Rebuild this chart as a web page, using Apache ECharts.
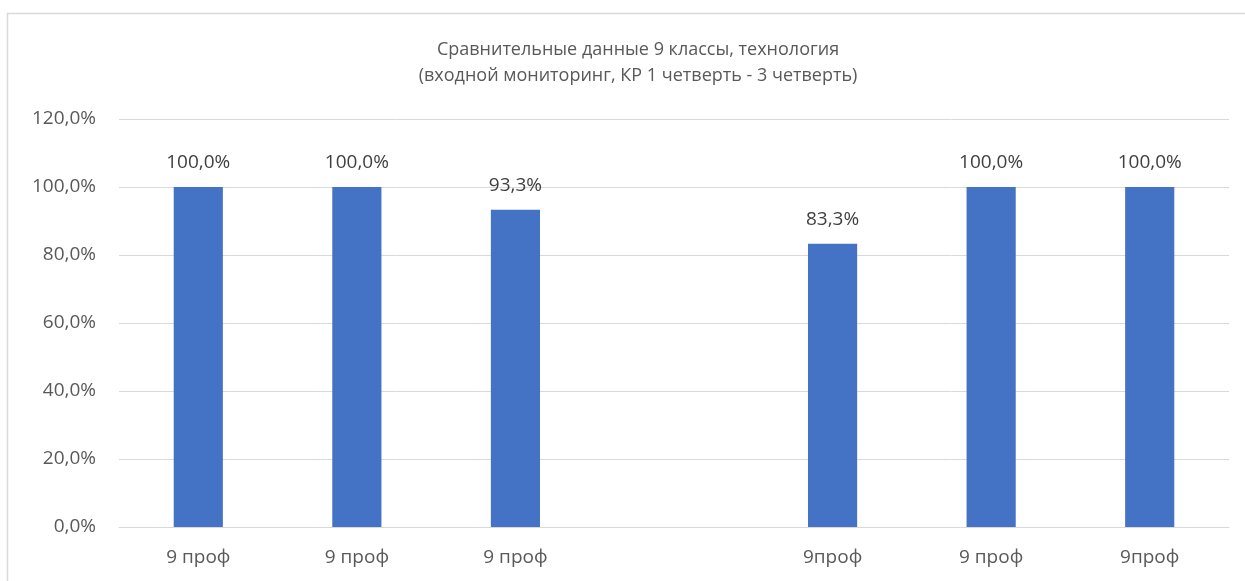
<!DOCTYPE html>
<html>
<head>
<meta charset="utf-8">
<script src="https://cdn.jsdelivr.net/npm/echarts@6/dist/echarts.min.js"></script>
<style>
html,body{margin:0;padding:0;background:#fff;}
#c{width:1245px;height:581px;}
</style>
</head>
<body>
<div id="c"></div>
<script>
const titleLines = ['Сравнительные данные 9 классы, технология', '(входной мониторинг, КР 1 четверть - 3 четверть)'];
const categories = ['9 проф', '9 проф', '9 проф', '', '9проф', '9 проф', '9проф'];
const values = [100, 100, 93.3, null, 83.3, 100, 100];
const yTicks = {min: 0, max: 120, interval: 20};

const fmt = v => v.toFixed(1).replace('.', ',') + '%';

const chart = echarts.init(document.getElementById('c'), null, {renderer: 'canvas'});
chart.setOption({
  animation: false,
  backgroundColor: '#fff',
  graphic: [{
    type: 'rect',
    shape: {x: 7.5, y: 13.5, width: 1400, height: 800},
    style: {fill: 'none', stroke: '#d9d9d9', lineWidth: 1.5},
    silent: true, z: -10
  }],
  title: {
    text: titleLines.join('\n'),
    left: 633, textAlign: 'center', top: 32,
    textStyle: {
      fontFamily: '"Open Sans", sans-serif',
      fontSize: 18, fontWeight: 'normal', color: '#595959', lineHeight: 26
    }
  },
  grid: {left: 119, right: 16, top: 119, bottom: 54, containLabel: false},
  xAxis: {
    type: 'category',
    data: categories,
    axisLine: {show: true, lineStyle: {color: '#d9d9d9', width: 1}},
    axisTick: {show: false},
    axisLabel: {color: '#595959', fontSize: 19, fontFamily: 'Open Sans, sans-serif', margin: 21, interval: 0}
  },
  yAxis: {
    type: 'value',
    min: yTicks.min, max: yTicks.max, interval: yTicks.interval,
    axisLine: {show: false},
    axisTick: {show: false},
    splitLine: {lineStyle: {color: '#d9d9d9', width: 1}},
    axisLabel: {color: '#595959', fontSize: 19, fontFamily: 'Open Sans, sans-serif', margin: 23, formatter: v => fmt(v)}
  },
  series: [{
    type: 'bar',
    data: values,
    barWidth: '31%',
    itemStyle: {color: '#4472C4'},
    label: {
      show: true, position: 'top', distance: 15,
      color: '#404040', fontSize: 19, fontFamily: 'Open Sans, sans-serif',
      formatter: p => p.value == null ? '' : fmt(p.value)
    }
  }]
});
</script>
</body>
</html>
